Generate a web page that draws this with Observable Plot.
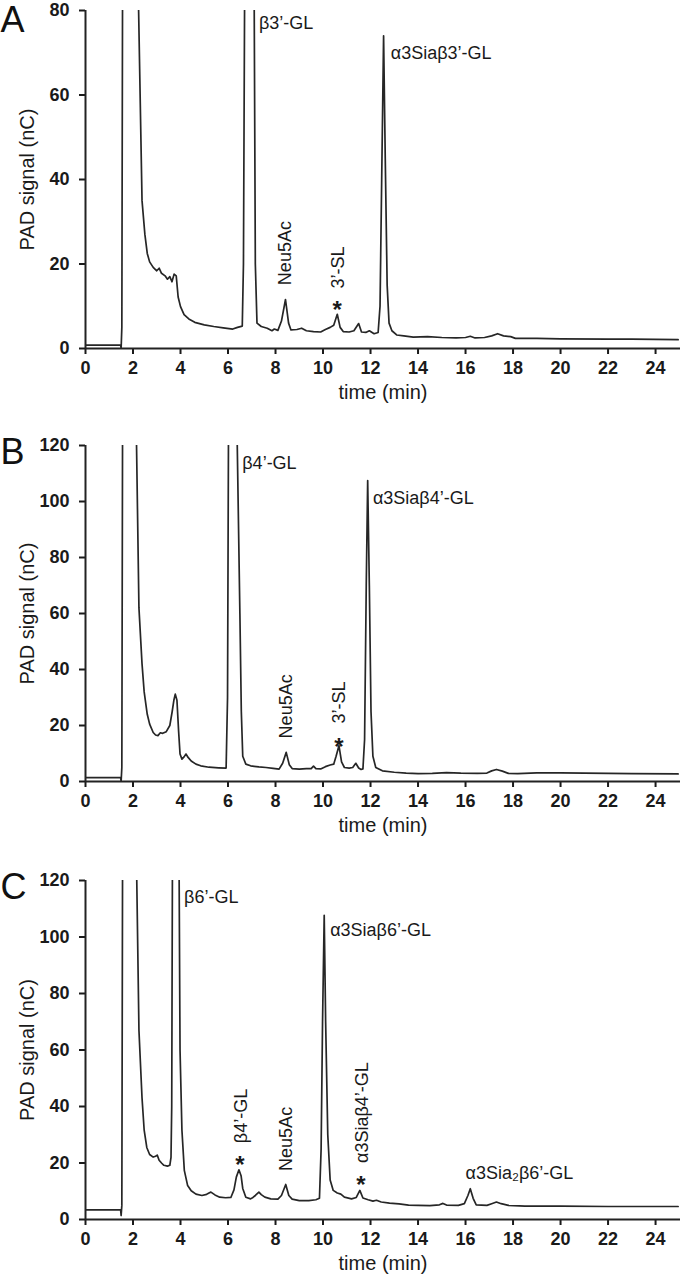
<!DOCTYPE html>
<html><head><meta charset="utf-8">
<script src="https://cdn.jsdelivr.net/npm/d3@7"></script>
<script src="https://cdn.jsdelivr.net/npm/@observablehq/plot@0.6"></script>
<style>
body{margin:0;background:#fff;}
#chart{width:680px;}
#chart svg{display:block;}
[aria-label="x-axis tick label"],[aria-label="y-axis tick label"]{font-weight:bold;font-size:18px;}
[aria-label="x-axis label"],[aria-label="y-axis label"]{font-size:20px;}
</style></head><body><div id="chart"></div>
<script>
// ---------- Panel A ----------
const timeA = [0,1.48,1.5,1.53,1.56,1.85,2.22,2.38,2.5,2.6,2.7,2.85,3.0,3.1,3.2,3.35,3.45,3.55,3.64,3.73,3.82,3.9,4.0,4.15,4.35,4.6,5.0,5.4,5.8,6.2,6.4,6.6,6.65,6.7,6.92,7.1,7.15,7.22,7.4,7.65,7.85,7.95,8.1,8.25,8.42,8.55,8.65,8.9,9.1,9.3,9.6,9.9,10.1,10.3,10.45,10.6,10.72,10.85,11.1,11.3,11.5,11.62,11.8,11.95,12.15,12.32,12.4,12.47,12.55,12.62,12.7,12.78,12.9,13.1,13.4,13.8,14.4,15.0,15.6,16.0,16.2,16.4,16.8,17.1,17.35,17.6,17.9,18.1,19,20,22,23,24.95];
const signalA = [0.8,0.8,0,5,85,400,85,35,27,22.5,20.5,19.2,18.4,19.0,17.8,17.2,16.4,17.0,15.8,17.6,17.2,12.2,9.9,8.0,7.0,6.2,5.6,5.2,4.9,4.6,5.0,5.3,20,85,400,85,20,6.0,5.2,4.8,4.2,4.6,4.3,6.5,11.6,6.0,4.4,4.5,4.8,4.2,4.0,3.9,4.5,5.0,5.5,8.1,5.0,4.0,3.9,4.2,5.9,3.9,3.8,4.2,3.5,3.8,10,40,74,45,15,6,4.2,3.2,3.0,2.7,2.8,2.6,2.5,2.6,2.9,2.5,2.6,3.0,3.5,3.0,2.8,2.4,2.4,2.3,2.2,2.2,2.1];
const flatLabelsA = [{time:7.3, signal:77, text:"β3’-GL"},{time:12.85, signal:70, text:"α3Siaβ3’-GL"}];
const upLabelsA = [{time:8.42, signal:15, text:"Neu5Ac"},{time:10.62, signal:14.2, text:"3’-SL"}];
const starsA = [{time:10.6, signal:10.6}];

// ---------- Panel B ----------
const timeB = [0,1.48,1.5,1.53,1.56,1.85,2.14,2.25,2.38,2.47,2.6,2.7,2.85,2.95,3.05,3.15,3.25,3.4,3.55,3.65,3.72,3.78,3.85,3.92,3.98,4.06,4.15,4.23,4.32,4.45,4.65,4.85,5.2,5.6,5.92,5.98,6.02,6.2,6.38,6.5,6.56,6.62,6.75,6.95,7.3,7.6,7.9,8.15,8.3,8.45,8.58,8.7,9.0,9.3,9.5,9.6,9.7,9.9,10.1,10.3,10.45,10.55,10.67,10.78,10.9,11.1,11.25,11.38,11.5,11.6,11.68,11.75,11.82,11.88,11.95,12.02,12.1,12.22,12.5,13.0,13.5,14.0,14.6,15.2,15.8,16.5,16.9,17.1,17.3,17.55,17.8,18.2,19,20,21,22,23,24.95];
const signalB = [1.4,1.4,0,5,125,500,125,62,42,32,24,20.5,17.5,16.6,16.4,17.4,17.2,17.8,20,25,29,31.2,29,18,9.8,8,8.8,9.8,8.6,7.3,6.2,5.6,5.1,4.9,4.8,30,125,500,125,60,25,9,6.2,5.6,5.2,5.0,4.7,4.4,6.5,10.4,6.0,4.6,4.4,4.6,4.6,5.5,4.6,4.5,5.3,5.9,6.2,9,12.8,7,5.0,4.8,5.0,6.5,4.8,4.3,4.5,15,70,107.5,70,25,9,5,3.8,3.3,3.0,2.8,2.9,3.2,3.0,2.9,3.0,3.8,4.3,3.7,2.9,2.8,3.1,3.1,3.0,2.9,2.8,2.7];
const flatLabelsB = [{time:6.6, signal:113.6, text:"β4’-GL"},{time:12.1, signal:101, text:"α3Siaβ4’-GL"}];
const upLabelsB = [{time:8.45, signal:15.4, text:"Neu5Ac"},{time:10.7, signal:20.7, text:"3’-SL"}];
const starsB = [{time:10.67, signal:14.6}];

// ---------- Panel C ----------
const timeC = [0,1.48,1.5,1.53,1.56,1.85,2.15,2.25,2.38,2.47,2.58,2.7,2.85,2.95,3.02,3.1,3.2,3.3,3.45,3.55,3.6,3.63,3.66,3.8,3.94,3.98,4.06,4.16,4.3,4.45,4.65,4.9,5.1,5.28,5.45,5.65,5.9,6.12,6.25,6.35,6.46,6.55,6.62,6.75,6.95,7.05,7.15,7.3,7.4,7.55,7.8,8.1,8.25,8.43,8.56,8.7,9.0,9.4,9.7,9.85,9.92,9.98,10.05,10.11,10.2,10.3,10.43,10.6,10.75,10.9,11.2,11.4,11.55,11.68,11.9,12.1,12.25,12.45,12.8,13.2,13.6,14.0,14.5,14.9,15.05,15.2,15.7,15.95,16.1,16.2,16.32,16.45,16.9,17.1,17.3,17.5,17.8,18.5,20,22,24.95];
const signalC = [3.4,3.4,1.4,5,125,500,125,67,43,31.6,25.5,23,22.1,22.4,22.8,21,20,19.2,18.9,19.2,22,40,125,500,125,60,31.6,17.4,12,10.2,9.0,8.5,8.9,9.7,8.7,7.9,7.7,7.8,10.5,15,17.6,15.5,11,7.9,7.3,7.8,8.5,9.7,8.8,7.9,7.3,7.2,8.5,12.4,8.5,7.2,6.7,6.7,7.0,7.5,25,70,107.7,70,30,14,10.3,9.4,9.0,7.9,7.3,7.8,10.3,7.6,7.0,6.5,6.8,6.2,5.8,5.5,5.1,5.0,4.9,5.2,5.7,5.1,5.0,5.6,8.5,10.9,7.5,5.2,5.0,5.6,6.2,5.6,5.0,4.7,4.7,4.6,4.6];
const flatLabelsC = [{time:4.15, signal:114, text:"β6’-GL"},{time:10.3, signal:102.5, text:"α3Siaβ6’-GL"},{time:16.0, signal:16.5, text:"α3Sia₂β6’-GL"}];
const upLabelsC = [{time:6.55, signal:27, text:"β4’-GL"},{time:8.46, signal:17.2, text:"Neu5Ac"},{time:11.65, signal:20, text:"α3Siaβ4’-GL"}];
const starsC = [{time:6.5, signal:21.8},{time:11.6, signal:14.7}];

// ---------- Axes ----------
const xTicks = [0,2,4,6,8,10,12,14,16,18,20,22,24];
const yTicksA = [0,20,40,60,80];
const yTicksBC = [0,20,40,60,80,100,120];

function panel({letter, letterDy, times, signals, yMax, yTicks, flat, up, stars, marginTop, frameH, marginBottom}) {
  const data = times.map((t, i) => ({time: t, signal: signals[i]}));
  return Plot.plot({
    width: 680,
    height: marginTop + frameH + marginBottom,
    marginLeft: 85, marginRight: 0, marginTop, marginBottom,
    style: {fontFamily: "'Liberation Sans', Arial, sans-serif", color: "#1a1a1a", background: "#fff", overflow: "visible"},
    x: {domain: [0, 25.05]},
    y: {domain: [0, yMax]},
    marks: [
      Plot.axisX({ticks: xTicks, tickFormat: d => String(d), tickSize: 6, tickPadding: 7, strokeWidth: 2,
        label: "time (min)", labelAnchor: "center", labelOffset: 50, labelArrow: "none"}),
      Plot.axisY({ticks: yTicks, tickFormat: d => String(d), tickSize: 6, tickPadding: 10, strokeWidth: 2,
        label: "PAD signal (nC)", labelAnchor: "center", labelOffset: 66, labelArrow: "none"}),
      Plot.ruleY([0], {stroke: "#222", strokeWidth: 2}),
      Plot.ruleX([0], {stroke: "#222", strokeWidth: 2}),
      Plot.line(data, {x: "time", y: "signal", stroke: "#262626", strokeWidth: 1.7, clip: true}),
      Plot.text(flat, {x: "time", y: "signal", text: "text", textAnchor: "start", fontSize: 18, fill: "#1a1a1a"}),
      Plot.text(up, {x: "time", y: "signal", text: "text", rotate: -90, textAnchor: "start", fontSize: 18, fill: "#1a1a1a"}),
      Plot.text(stars, {x: "time", y: "signal", text: () => "*", fontSize: 24, fontWeight: "bold", dy: 7, fill: "#1a1a1a"}),
      Plot.text([letter], {frameAnchor: "top-left", text: d => d, textAnchor: "start", lineAnchor: "top", dx: -85, dy: letterDy, fontSize: 36, fill: "#111"})
    ]
  });
}

const chart = document.getElementById("chart");
chart.append(panel({letter: "A", letterDy: -4, times: timeA, signals: signalA, yMax: 80, yTicks: yTicksA,
  flat: flatLabelsA, up: upLabelsA, stars: starsA, marginTop: 10, frameH: 338, marginBottom: 62}));
chart.append(panel({letter: "B", letterDy: -7, times: timeB, signals: signalB, yMax: 120, yTicks: yTicksBC,
  flat: flatLabelsB, up: upLabelsB, stars: starsB, marginTop: 35, frameH: 336, marginBottom: 62}));
chart.append(panel({letter: "C", letterDy: -7, times: timeC, signals: signalC, yMax: 120, yTicks: yTicksBC,
  flat: flatLabelsC, up: upLabelsC, stars: starsC, marginTop: 37, frameH: 339, marginBottom: 60}));
</script></body></html>
